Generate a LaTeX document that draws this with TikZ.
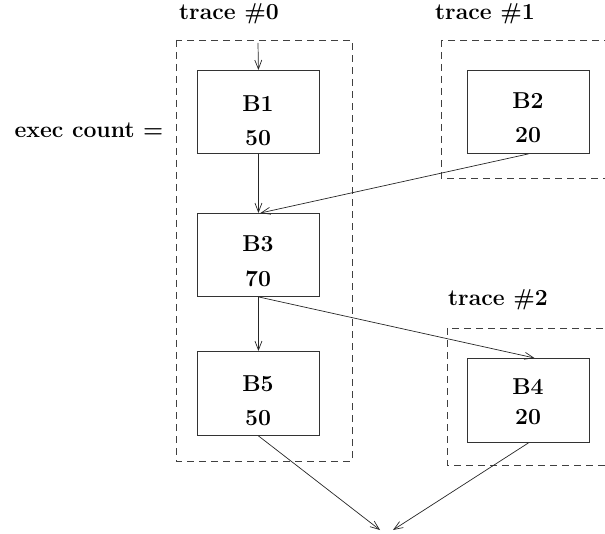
\documentclass[tikz,border=0pt]{standalone}
\usepackage{fontspec}
\setmainfont{Latin Modern Roman}
\usetikzlibrary{arrows.meta}
\begin{document}
\begin{tikzpicture}[x=1pt,y=-1pt,
  lbl/.style={font=\fontsize{23}{25}\selectfont\bfseries, inner sep=0pt},
  block/.style={draw=black!80, line width=0.9pt, minimum width=122pt, minimum height=83pt, inner sep=0pt, anchor=north west},
  trace/.style={draw=black!75, dashed, dash pattern=on 7pt off 5pt, line width=0.8pt},
  flow/.style={draw=black!85, line width=0.7pt, -{Straight Barb[length=9pt,width=7pt]}}]
\clip (0,0) rectangle (605,534);
\useasboundingbox (0,0) rectangle (605,534);

% trace regions
\draw[trace] (176,40) rectangle (352,461);
\draw[trace] (441,40) rectangle (640,178);
\draw[trace] (447,328) rectangle (640,465);

% trace titles
\node[lbl] (t0) at (229,14) {trace \#0};
\node[lbl] (t1) at (485,14) {trace \#1};
\node[lbl] (t2) at (498,300) {trace \#2};
\node[lbl] (ec) at (89,130) {exec count =};

% basic blocks
\node[block] (b1) at (197,70) {};
\node[block] (b2) at (467,70) {};
\node[block] (b3) at (197,213) {};
\node[block, minimum height=84pt] (b5) at (197,351) {};
\node[block, minimum height=84pt] (b4) at (467,358) {};

\node[lbl] (b1n) at (258,104) {B1};
\node[lbl] (b1c) at (258,138) {50};
\node[lbl] (b2n) at (528,101) {B2};
\node[lbl] (b2c) at (528,135) {20};
\node[lbl] (b3n) at (258,244) {B3};
\node[lbl] (b3c) at (258,279) {70};
\node[lbl] (b5n) at (258,384) {B5};
\node[lbl] (b5c) at (258,418) {50};
\node[lbl] (b4n) at (528,387) {B4};
\node[lbl] (b4c) at (528,417) {20};

% free ends
\coordinate (entry) at (258,43);
\coordinate (exitL) at (380,530);
\coordinate (exitR) at (393,530);

% control flow
\draw[flow] (entry) -- (b1.north);
\draw[flow] (b1.south) -- (b3.north);
\draw[flow] (b2.south) -- ([xshift=2pt]b3.north);
\draw[flow] (b3.south) -- (b5.north);
\draw[flow] (b3.south) -- ([xshift=6pt]b4.north);
\draw[flow] (b5.south) -- (exitL);
\draw[flow] (b4.south) -- (exitR);
\end{tikzpicture}
\end{document}
